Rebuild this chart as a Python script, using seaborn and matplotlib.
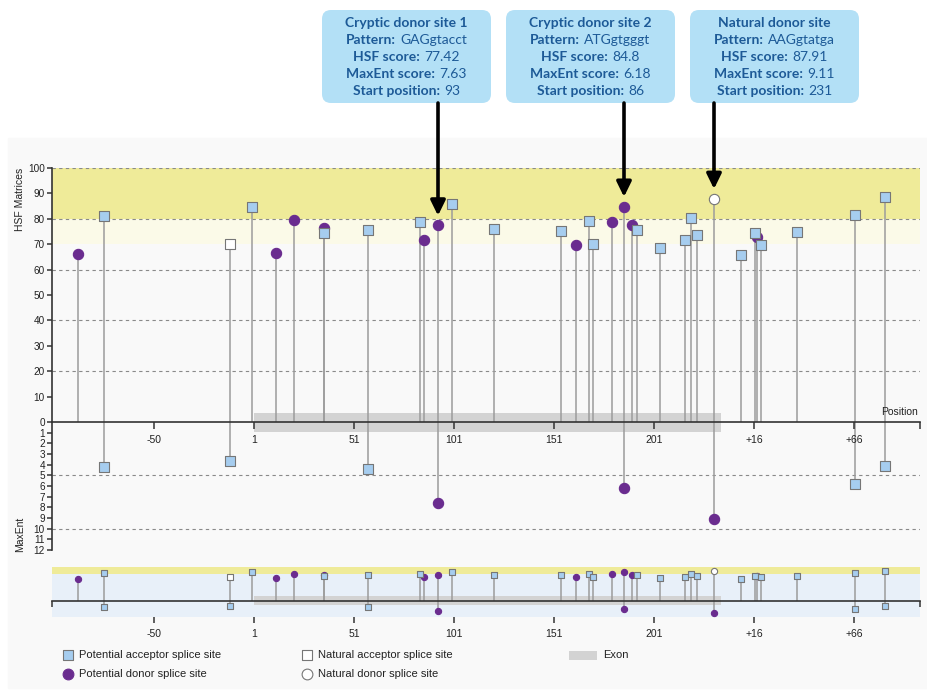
import numpy as np
import pandas as pd
import matplotlib.pyplot as plt
import seaborn as sns
from matplotlib.patches import Rectangle, FancyBboxPatch

W, H = 928, 691
nan = np.nan

# drawing axis: 0 is exon position 1, positions after the exon end are
# intronic and labelled +N (250 -> +16, 300 -> +66)
tick_pos = [-50, 0, 50, 100, 150, 200, 250, 300]
tick_labels = ["-50", "1", "51", "101", "151", "201", "+16", "+66"]
x_range = [-101, 333]
exon_range = [0, 233.5]

# potential acceptor sites
acc_pos = [-75, -1, 35, 57, 83, 99, 120, 153.5, 167.5, 169.5, 191.5, 203,
           215.5, 218.5, 221.5, 243.5, 250.5, 253.5, 271.5, 300.5, 315.5]
acc_hsf = [81, 84.5, 74.4, 75.6, 78.7, 85.8, 76, 75.2, 79, 69.9, 75.6, 68.5,
           71.8, 80.4, 73.6, 65.7, 74.4, 69.7, 74.8, 81.5, 88.6]
acc_maxent = [4.2, nan, nan, 4.4, nan, nan, nan, nan, nan, nan, nan, nan,
              nan, nan, nan, nan, nan, nan, nan, 5.8, 4.1]

# potential donor sites
don_pos = [-88, 11, 20, 35, 85, 92, 161, 179, 185, 189, 251.5]
don_hsf = [66, 66.4, 79.7, 76.4, 71.6, 77.42, 69.7, 78.7, 84.8, 77.6, 72.8]
don_maxent = [nan, nan, nan, nan, nan, 7.63, nan, nan, 6.18, nan, nan]

# natural sites
nacc_pos, nacc_hsf, nacc_maxent = [-12], [70], [3.7]
ndon_pos, ndon_hsf, ndon_maxent = [230], [87.91], [9.11]

# info boxes
box_titles = ["Cryptic donor site 1", "Cryptic donor site 2", "Natural donor site"]
box_patterns = ["GAGgtacct", "ATGgtgggt", "AAGgtatga"]
box_hsf = [77.42, 84.8, 87.91]
box_maxent = [7.63, 6.18, 9.11]
box_start = [93, 86, 231]
box_target = [92, 185, 230]

hsf_ticks = list(range(0, 101, 10))
maxent_ticks = list(range(1, 13))

df = pd.concat([
    pd.DataFrame({"pos": don_pos, "hsf": don_hsf, "maxent": don_maxent, "kind": "don"}),
    pd.DataFrame({"pos": acc_pos, "hsf": acc_hsf, "maxent": acc_maxent, "kind": "acc"}),
    pd.DataFrame({"pos": nacc_pos, "hsf": nacc_hsf, "maxent": nacc_maxent, "kind": "nacc"}),
    pd.DataFrame({"pos": ndon_pos, "hsf": ndon_hsf, "maxent": ndon_maxent, "kind": "ndon"}),
], ignore_index=True)

ACC_C = "#a6cdef"
DON_C = "#6a2c8f"
EDGE = "#767676"
STEM = "#9c9c9c"
YELLOW = "#efeb99"
PALE = "#fbfae8"
EXON_C = "#d3d3d3"
AXIS_C = "#333333"
styles = {
    "don": dict(marker="o", color=DON_C, edgecolor=DON_C),
    "acc": dict(marker="s", color=ACC_C, edgecolor=EDGE),
    "nacc": dict(marker="s", color="white", edgecolor=EDGE),
    "ndon": dict(marker="o", color="white", edgecolor=EDGE),
}
# MaxEnt markers are always drawn with the filled styles
low_styles = {"don": "don", "acc": "acc", "nacc": "acc", "ndon": "don"}

sns.set_style("white")
plt.rcParams["font.family"] = ["Liberation Sans", "DejaVu Sans"]

fig = plt.figure(figsize=(W / 100, H / 100), dpi=100)
fig.patch.set_facecolor("white")
fig.add_artist(Rectangle((8 / W, 1 - 688 / H), 920 / W, 550 / H,
                         transform=fig.transFigure, color="#f9f9f9", zorder=-5))


def px_rect(x0, y0, x1, y1):
    return [x0 / W, 1 - y1 / H, (x1 - x0) / W, (y1 - y0) / H]


def draw_split(ax_hi, ax_lo, size, stem_lw, small):
    for ax in (ax_hi, ax_lo):
        ax.set_facecolor("none")
        ax.set_xlim(x_range)
        for s in ax.spines.values():
            s.set_visible(False)
    ax_hi.set_ylim(0, 100)
    ax_lo.set_ylim(12, 0)

    ax_hi.axhspan(80, 100, color=YELLOW, lw=0, zorder=0)
    if not small:
        ax_hi.axhspan(70, 80, color=PALE, lw=0, zorder=0)
        for g in [20, 40, 60, 80, 100]:
            ax_hi.axhline(g, color="#8a8a8a", lw=0.8, ls=(0, (3, 3)), zorder=1)
        for g in [5, 10]:
            ax_lo.axhline(g, color="#8a8a8a", lw=0.8, ls=(0, (3, 3)), zorder=1)

    # exon band straddling the axis
    band_hi = 14.7 if small else 3.5
    band_lo = 3.0 if small else 0.94
    ax_hi.fill_between(exon_range, 0, band_hi, color=EXON_C, lw=0, zorder=1)
    ax_lo.fill_between(exon_range, 0, band_lo, color=EXON_C, lw=0, zorder=1)

    ax_hi.vlines(df["pos"], 0, df["hsf"], color=STEM, lw=stem_lw, zorder=2)
    low = df.dropna(subset=["maxent"])
    ax_lo.vlines(low["pos"], 0, low["maxent"], color=STEM, lw=stem_lw, zorder=2)

    for kind, st in styles.items():
        sub = df[df["kind"] == kind]
        sns.scatterplot(data=sub, x="pos", y="hsf", s=size, linewidth=0.8,
                        ax=ax_hi, zorder=3, clip_on=False, legend=False, **st)
        sub = low[low["kind"] == kind]
        if len(sub):
            sns.scatterplot(data=sub, x="pos", y="maxent", s=size, linewidth=0.8,
                            ax=ax_lo, zorder=3, clip_on=False, legend=False,
                            **styles[low_styles[kind]])
    for ax in (ax_hi, ax_lo):
        ax.set_xlabel("")
        ax.set_ylabel("")
        ax.set_xlim(x_range)
    ax_hi.set_ylim(0, 100)
    ax_lo.set_ylim(12, 0)

    ax_hi.spines["bottom"].set_visible(True)
    ax_hi.spines["bottom"].set_color(AXIS_C)
    ax_hi.spines["bottom"].set_linewidth(1.2)
    ax_hi.spines["bottom"].set_zorder(4)


# main panel
ax_hsf = fig.add_axes(px_rect(52, 168, 920, 422), zorder=3)
ax_me = fig.add_axes(px_rect(52, 422, 920, 550), zorder=2)
draw_split(ax_hsf, ax_me, 55, 1.1, False)

for ax in (ax_hsf, ax_me):
    ax.spines["left"].set_visible(True)
    ax.spines["left"].set_color(AXIS_C)
    ax.spines["left"].set_linewidth(1.2)
    ax.tick_params(axis="y", length=3.6, width=1.1, pad=1.5, labelsize=7.2,
                   color=AXIS_C, labelcolor="#222222", left=True)
ax_hsf.set_yticks(hsf_ticks)
ax_me.set_yticks(maxent_ticks)
ax_hsf.set_xticks(tick_pos)
ax_hsf.set_xticklabels(tick_labels)
ax_hsf.set_xticks([x_range[1]], minor=True)
ax_hsf.tick_params(axis="x", which="both", length=5, width=1.1, pad=4.5,
                   labelsize=7.5, color=AXIS_C, labelcolor="#222222", bottom=True)
ax_me.set_xticks([])

# overview panel
ov_hi = fig.add_axes(px_rect(52, 567, 920, 601), zorder=3)
ov_lo = fig.add_axes(px_rect(52, 601, 920, 617), zorder=1)
draw_split(ov_hi, ov_lo, 20, 1.1, True)
ov_hi.set_facecolor("#e8f0f9")
ov_lo.set_facecolor("#e8f0f9")
ov_hi.set_yticks([])
ov_lo.set_yticks([])
ov_hi.set_xticks([])
ov_hi.set_xticks(x_range, minor=True)
ov_hi.tick_params(axis="x", which="minor", length=4.3, width=1.1, color=AXIS_C, bottom=True)
ov_lo.set_xticks(tick_pos)
ov_lo.set_xticklabels(tick_labels)
ov_lo.tick_params(axis="x", length=4.3, width=1.1, pad=4.3, labelsize=7.5,
                  color=AXIS_C, labelcolor="#222222", bottom=True)

# overlay in pixel coordinates for text, boxes, arrows and legend
ov = fig.add_axes([0, 0, 1, 1], zorder=10)
ov.set_xlim(0, W)
ov.set_ylim(H, 0)
ov.axis("off")
ov.patch.set_visible(False)

ov.text(20, 168, "HSF Matrices", rotation=90, ha="center", va="top", fontsize=7.5, color="#222222")
ov.text(20, 552, "MaxEnt", rotation=90, ha="center", va="bottom", fontsize=7.5, color="#222222")
ov.text(918, 417, "Position", ha="right", va="bottom", fontsize=7.5, color="#222222")

renderer = fig.canvas.get_renderer()
TXT_C = "#1d5a97"
box_x = [322, 506, 690]
line_y = [22.5, 39.5, 56.5, 73.5, 90.5]
for i in range(3):
    x0 = box_x[i]
    r = 9
    ov.add_patch(FancyBboxPatch((x0 + r, 10 + r), 169 - 2 * r, 93 - 2 * r,
                                boxstyle=f"round,pad={r}", fc="#b3e0f6", ec="none"))
    cx = x0 + 169 / 2
    lines = [(box_titles[i], ""), ("Pattern:", box_patterns[i]),
             ("HSF score:", str(box_hsf[i])), ("MaxEnt score:", str(box_maxent[i])),
             ("Start position:", str(box_start[i]))]
    for j, (lab, val) in enumerate(lines):
        t1 = ov.text(0, line_y[j], lab, fontweight="bold", fontsize=10, color=TXT_C,
                     va="center", ha="left", family="Lato")
        t2 = ov.text(0, line_y[j], val, fontsize=10, color=TXT_C,
                     va="center", ha="left", family="Lato")
        w1 = t1.get_window_extent(renderer).width
        w2 = t2.get_window_extent(renderer).width if val else 0
        gap = 4 if val else 0
        start = cx - (w1 + gap + w2) / 2
        t1.set_x(start)
        t2.set_x(start + w1 + gap)

    # arrow from the box to the site
    disp = ax_hsf.transData.transform((box_target[i], box_hsf[i]))
    tx = ov.transData.inverted().transform(disp)[0]
    ov.annotate("", xy=(box_target[i], box_hsf[i]), xycoords=ax_hsf.transData,
                xytext=(tx, 103), textcoords="data",
                arrowprops=dict(arrowstyle="-|>,head_length=0.45,head_width=0.22",
                                color="black", lw=2.6, shrinkA=0, shrinkB=7,
                                mutation_scale=20))

# legend
leg_items = [
    (68, 655, "s", ACC_C, EDGE, "Potential acceptor splice site"),
    (68, 674, "o", DON_C, DON_C, "Potential donor splice site"),
    (307, 655, "s", "white", EDGE, "Natural acceptor splice site"),
    (307, 674, "o", "white", EDGE, "Natural donor splice site"),
]
for x, y, m, fc, ec, lab in leg_items:
    ov.scatter([x], [y], marker=m, s=60, fc=fc, ec=ec, lw=0.8)
    ov.text(x + 11, y, lab, va="center", ha="left", fontsize=8, color="#222222")
ov.add_patch(Rectangle((569, 651), 28, 9, color=EXON_C, lw=0))
ov.text(603, 655.5, "Exon", va="center", ha="left", fontsize=8, color="#222222")

fig.savefig("out.png", dpi=100)
